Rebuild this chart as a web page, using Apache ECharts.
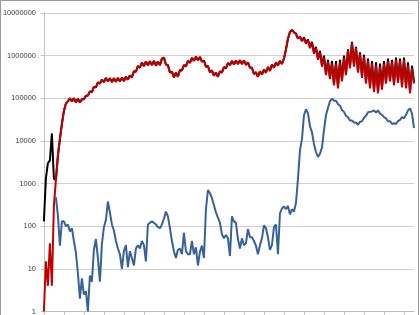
<!DOCTYPE html>
<html>
<head>
<meta charset="utf-8">
<script src="https://cdn.jsdelivr.net/npm/echarts@6/dist/echarts.min.js"></script>
<style>
html,body{margin:0;padding:0;background:#fff;}
#chart{width:420px;height:315px;}
</style>
</head>
<body>
<div id="chart"></div>
<script>
// Y-axis tick labels (log scale)
const yTickLabels = ['1','10','100','1000','10000','100000','1000000','10000000'];

// Black series
const blackValues = [
  130, 1300, 3000, 3500, 15000, 1300, 1200, 4500, 11000, 25000,
  50000, 75000, 85000, 100000, 84000, 100000, 81000, 97000, 80000, 95000,
  95000, 115000, 115000, 145000, 140000, 185000, 180000, 235000, 220000, 275000,
  240000, 300000, 250000, 295000, 240000, 295000, 245000, 300000, 250000, 305000,
  255000, 320000, 275000, 345000, 310000, 430000, 420000, 570000, 520000, 690000,
  570000, 730000, 590000, 740000, 600000, 750000, 580000, 730000, 600000, 850000,
  900000, 620000, 600000, 400000, 420000, 310000, 400000, 320000, 460000, 450000,
  600000, 560000, 750000, 680000, 880000, 760000, 940000, 780000, 930000, 720000,
  770000, 550000, 570000, 410000, 450000, 340000, 400000, 320000, 430000, 400000,
  540000, 500000, 670000, 600000, 750000, 620000, 770000, 640000, 780000, 640000,
  770000, 610000, 700000, 520000, 520000, 370000, 410000, 320000, 430000, 360000,
  470000, 400000, 540000, 440000, 620000, 520000, 700000, 580000, 750000, 640000,
  850000, 1400000, 2500000, 3600000, 4000000, 3500000, 3300000, 2500000, 2800000, 2200000,
  2700000, 2000000, 2400000, 1600000, 2100000, 1200000, 1600000, 850000, 1300000, 600000,
  1000000, 380000, 800000, 300000, 750000, 220000, 750000, 190000, 800000, 270000,
  1000000, 380000, 1400000, 550000, 2100000, 600000, 1600000, 430000, 1200000, 330000,
  1050000, 240000, 850000, 190000, 750000, 150000, 700000, 140000, 650000, 175000,
  750000, 240000, 850000, 270000, 800000, 220000, 900000, 250000, 850000, 200000,
  900000, 190000, 700000, 145000, 580000, 240000
];

// Red series
const redValues = [
  1, 15, 4, 40, 4, 300, 1200, 4500, 11000, 25000,
  50000, 75000, 85000, 100000, 84000, 100000, 81000, 97000, 80000, 95000,
  95000, 115000, 115000, 145000, 140000, 185000, 180000, 235000, 220000, 275000,
  240000, 300000, 250000, 295000, 240000, 295000, 245000, 300000, 250000, 305000,
  255000, 320000, 275000, 345000, 310000, 430000, 420000, 570000, 520000, 690000,
  570000, 730000, 590000, 740000, 600000, 750000, 580000, 730000, 600000, 850000,
  900000, 620000, 600000, 400000, 420000, 310000, 400000, 320000, 460000, 450000,
  600000, 560000, 750000, 680000, 880000, 760000, 940000, 780000, 930000, 720000,
  770000, 550000, 570000, 410000, 450000, 340000, 400000, 320000, 430000, 400000,
  540000, 500000, 670000, 600000, 750000, 620000, 770000, 640000, 780000, 640000,
  770000, 610000, 700000, 520000, 520000, 370000, 410000, 320000, 430000, 360000,
  470000, 400000, 540000, 440000, 620000, 520000, 700000, 580000, 750000, 640000,
  850000, 1400000, 2500000, 3600000, 4000000, 3500000, 3300000, 2500000, 2800000, 2200000,
  2600000, 1900000, 2300000, 1500000, 2000000, 1100000, 1500000, 800000, 1200000, 550000,
  900000, 350000, 700000, 280000, 650000, 200000, 650000, 170000, 700000, 250000,
  900000, 350000, 1300000, 500000, 2000000, 550000, 1500000, 400000, 1100000, 300000,
  950000, 220000, 750000, 170000, 650000, 140000, 600000, 130000, 550000, 160000,
  650000, 220000, 750000, 250000, 700000, 200000, 800000, 230000, 750000, 180000,
  800000, 170000, 600000, 130000, 500000, 220000
];

// Blue series
const blueValues = [
  null, null, null, null, null, null, 480, 180, 35, 130,
  130, 100, 110, 75, 90, 45, 24, 8, 2, 6,
  2.5, 3, 1, 7, 5, 28, 50, 18, 5, 38,
  95, 140, 380, 210, 110, 80, 45, 30, 22, 10,
  26, 36, 11, 26, 18, 12, 30, 36, 30, 45,
  36, 15, 110, 120, 130, 120, 110, 95, 90, 110,
  150, 220, 170, 90, 45, 26, 18, 28, 30, 22,
  70, 26, 22, 22, 45, 22, 32, 12, 25, 35,
  18, 250, 700, 600, 460, 310, 210, 160, 120, 65,
  52, 62, 52, 20, 170, 130, 120, 50, 30, 52,
  36, 40, 85, 55, 55, 45, 35, 22, 36, 52,
  105, 90, 55, 28, 36, 95, 110, 22, 200, 260,
  290, 250, 300, 190, 250, 220, 350, 1300, 6000, 11000,
  40000, 55000, 45000, 22000, 16000, 8500, 5500, 4200, 5000, 7000,
  18000, 40000, 60000, 85000, 98000, 88000, 88000, 73000, 67000, 53000,
  48000, 39000, 36000, 30000, 30000, 27000, 27000, 24000, 28000, 29000,
  35000, 39000, 47000, 48000, 49000, 52000, 46000, 52000, 44000, 41000,
  36000, 34000, 29000, 29000, 25000, 26000, 25000, 29000, 31000, 36000,
  34000, 41000, 52000, 58000, 44000, 20000
];

const categories = redValues.map((_, i) => String(i + 1));

const chart = echarts.init(document.getElementById('chart'), null, {renderer: 'canvas'});
chart.setOption({
  animation: false,
  backgroundColor: '#ffffff',
  graphic: [{
    type: 'rect',
    shape: {x: 0.5, y: 0.5, width: 418, height: 330},
    style: {fill: 'none', stroke: '#9a9a9a', lineWidth: 1},
    silent: true
  }],
  grid: {left: 43, right: 6, top: 13, bottom: 1, containLabel: false},
  xAxis: {
    type: 'category',
    data: categories,
    boundaryGap: false,
    axisLine: {show: true, lineStyle: {color: '#bdbdbd', width: 1}},
    axisTick: {show: true, interval: 9, length: 3, lineStyle: {color: '#bdbdbd'}},
    axisLabel: {show: false},
    splitLine: {show: false}
  },
  yAxis: {
    type: 'log',
    logBase: 10,
    min: 1,
    max: 10000000,
    axisLine: {show: true, lineStyle: {color: '#c4c4c4', width: 1}},
    axisTick: {show: true, length: 3, lineStyle: {color: '#c4c4c4'}},
    axisLabel: {
      margin: 8,
      color: '#404040',
      fontFamily: 'Liberation Sans, Arial, sans-serif',
      fontSize: 7.4,
      formatter: function (v) {
        const idx = Math.round(Math.log10(v));
        return yTickLabels[idx] !== undefined ? yTickLabels[idx] : '';
      }
    },
    splitLine: {show: true, lineStyle: {color: '#cfcfcf', width: 1}}
  },
  series: [
    {name: 'black', type: 'line', data: blackValues, showSymbol: false, symbol: 'none',
     lineStyle: {color: '#000000', width: 2}, z: 1},
    {name: 'red', type: 'line', data: redValues, showSymbol: false, symbol: 'none',
     lineStyle: {color: '#C00000', width: 2}, z: 2},
    {name: 'blue', type: 'line', data: blueValues, showSymbol: false, symbol: 'none', connectNulls: false,
     lineStyle: {color: '#386199', width: 2}, z: 3}
  ]
});
</script>
</body>
</html>
